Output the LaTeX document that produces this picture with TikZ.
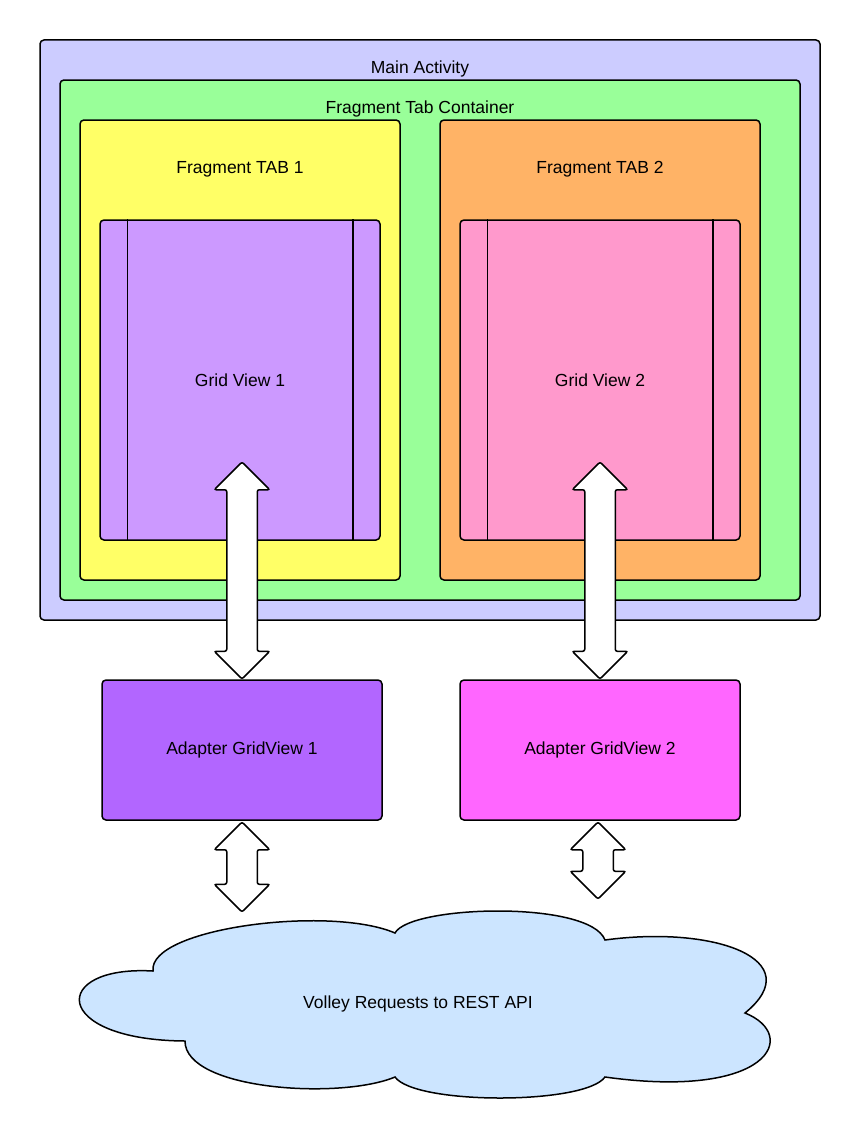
\documentclass[tikz,border=0pt]{standalone}
\usepackage{fontspec}
\setmainfont{Liberation Sans}
\usetikzlibrary{shapes.arrows}

\definecolor{mainc}{HTML}{CCCCFF}
\definecolor{contc}{HTML}{99FF99}
\definecolor{tabonec}{HTML}{FFFF66}
\definecolor{tabtwoc}{HTML}{FFB366}
\definecolor{gridonec}{HTML}{CC99FF}
\definecolor{gridtwoc}{HTML}{FF99CC}
\definecolor{adaponec}{HTML}{B266FF}
\definecolor{adaptwoc}{HTML}{FF66FF}
\definecolor{cloudc}{HTML}{CCE5FF}

\tikzset{
  box/.style={draw, line width=1.5pt, rounded corners=4pt, inner sep=0pt,
    font=\fontsize{17.5}{21}\selectfont},
  lbl/.style={anchor=base, font=\fontsize{17.5}{21}\selectfont},
  dblarrow/.style={draw, fill=white, line width=1.5pt, double arrow, rotate=90,
    rounded corners=2pt, inner xsep=0pt, inner ysep=14.5pt,
    double arrow head extend=12.5pt},
}

\begin{document}
\begin{tikzpicture}[x=1pt, y=-1pt]
  \useasboundingbox (0,0) rectangle (860,1140);

  % containers
  \node[box, fill=mainc, minimum width=780pt, minimum height=580pt] (main) at (430,330) {};
  \node[box, fill=contc, minimum width=740pt, minimum height=520pt] (cont) at (430,340) {};
  \node[box, fill=tabonec, minimum width=320pt, minimum height=460pt] (tabone) at (240,350) {};
  \node[box, fill=tabtwoc, minimum width=320pt, minimum height=460pt] (tabtwo) at (600,350) {};
  \node[lbl] (mainlbl) at (420,73.5) {Main Activity};
  \node[lbl] (contlbl) at (420,113.5) {Fragment Tab Container};
  \node[lbl] (tabonelbl) at (240,173) {Fragment TAB 1};
  \node[lbl] (tabtwolbl) at (600,173) {Fragment TAB 2};

  % grid views
  \node[box, fill=gridonec, minimum width=280pt, minimum height=320pt] (gridone) at (240,380) {Grid View 1};
  \node[box, fill=gridtwoc, minimum width=280pt, minimum height=320pt] (gridtwo) at (600,380) {Grid View 2};
  \draw[line width=1.5pt] ([xshift=28pt]gridone.north west) -- ([xshift=28pt]gridone.south west);
  \draw[line width=1.5pt] ([xshift=-28pt]gridone.north east) -- ([xshift=-28pt]gridone.south east);
  \draw[line width=1.5pt] ([xshift=28pt]gridtwo.north west) -- ([xshift=28pt]gridtwo.south west);
  \draw[line width=1.5pt] ([xshift=-28pt]gridtwo.north east) -- ([xshift=-28pt]gridtwo.south east);

  % adapters
  \node[box, fill=adaponec, minimum width=280pt, minimum height=140pt] (adapone) at (242,750) {Adapter GridView 1};
  \node[box, fill=adaptwoc, minimum width=280pt, minimum height=140pt] (adaptwo) at (600,750) {Adapter GridView 2};

  % cloud
  \draw[line width=1.5pt, fill=cloudc]
    (153,971) .. controls (148,928) and (330,905) .. (395,933)
    .. controls (410,905) and (590,900) .. (605,940)
    .. controls (715,925) and (810,960) .. (745,1013)
    .. controls (800,1035) and (770,1100) .. (605,1077)
    .. controls (585,1105) and (415,1105) .. (395,1077)
    .. controls (340,1100) and (185,1090) .. (185,1041)
    .. controls (50,1040) and (50,965) .. cycle;
  \node[lbl] (api) at (418,1008) {Volley Requests to REST API};

  % arrows
  \node[dblarrow, minimum height=217pt] (arrone) at (242,570.5) {};
  \node[dblarrow, minimum height=217pt] (arrtwo) at (600,570.5) {};
  \node[dblarrow, minimum height=90pt] (arrthree) at (242,867) {};
  \node[dblarrow, minimum height=77pt] (arrfour) at (598,860.5) {};
\end{tikzpicture}
\end{document}
